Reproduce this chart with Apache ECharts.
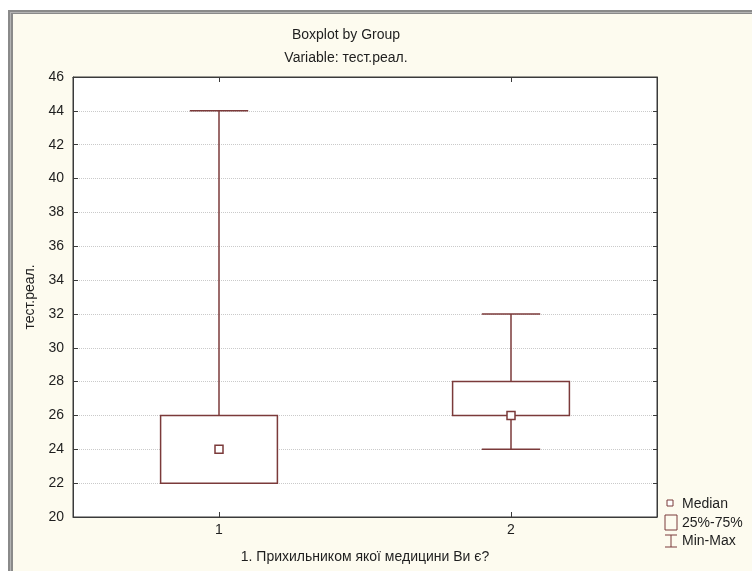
<!DOCTYPE html>
<html>
<head>
<meta charset="utf-8">
<script src="https://cdn.jsdelivr.net/npm/echarts@6/dist/echarts.min.js"></script>
<style>
  html, body { margin: 0; padding: 0; background: #ffffff; }
  #chart { width: 752px; height: 571px; }
</style>
</head>
<body>
<div id="chart"></div>
<script>
// group labels and the five numbers of each box
const categories = ["1", "2"];
const minVals = [22, 24];
const q1Vals = [22, 26];
const medianVals = [24, 26];
const q3Vals = [26, 28];
const maxVals = [44, 32];

const boxColor = "#7b3a3a";
const textColor = "#1e1e1e";
const font = "Liberation Sans, Arial, sans-serif";

const boxData = categories.map((c, i) => [i, minVals[i], q1Vals[i], medianVals[i], q3Vals[i], maxVals[i]]);

function renderBox(params, api) {
  const idx = api.value(0);
  const band = api.size([1, 0])[0];
  const half = band * 0.4 / 2;
  const cap = band * 0.2 / 2;
  const pMin = api.coord([idx, api.value(1)]);
  const pQ1 = api.coord([idx, api.value(2)]);
  const pMed = api.coord([idx, api.value(3)]);
  const pQ3 = api.coord([idx, api.value(4)]);
  const pMax = api.coord([idx, api.value(5)]);
  const x = pMed[0];
  const line = { stroke: boxColor, lineWidth: 1.5 };
  return {
    type: "group",
    children: [
      // whiskers
      { type: "line", shape: { x1: x, y1: pQ3[1], x2: x, y2: pMax[1] }, style: line },
      { type: "line", shape: { x1: x, y1: pQ1[1], x2: x, y2: pMin[1] }, style: line },
      { type: "line", shape: { x1: x - cap, y1: pMax[1], x2: x + cap, y2: pMax[1] }, style: line },
      { type: "line", shape: { x1: x - cap, y1: pMin[1], x2: x + cap, y2: pMin[1] }, style: line },
      // box
      {
        type: "rect",
        shape: { x: x - half, y: pQ3[1], width: half * 2, height: pQ1[1] - pQ3[1] },
        style: { fill: "#ffffff", stroke: boxColor, lineWidth: 1.5 },
      },
      // median
      {
        type: "rect",
        shape: { x: x - 4, y: pMed[1] - 4, width: 8, height: 8 },
        style: { fill: "#ffffff", stroke: boxColor, lineWidth: 1.5 },
      },
    ],
  };
}

let chartDom = document.getElementById("chart");
let myChart = echarts.init(chartDom);

let option = {
  backgroundColor: "#ffffff",
  animation: false,
  textStyle: { fontFamily: font },
  title: {
    text: "Boxplot by Group",
    subtext: "Variable: тест.реал.",
    left: 341,
    textAlign: "center",
    top: 23,
    itemGap: 9,
    textStyle: { fontSize: 14, fontWeight: "normal", color: textColor, fontFamily: font },
    subtextStyle: { fontSize: 14, color: textColor, fontFamily: font },
  },
  graphic: [
    // window frame and cream panel
    { type: "rect", z: -10, shape: { x: 8, y: 10, width: 760, height: 580 }, style: { fill: "#8a8a8a" } },
    { type: "rect", z: -10, shape: { x: 10, y: 12, width: 760, height: 580 }, style: { fill: "#b4b4b4" } },
    { type: "rect", z: -10, shape: { x: 11, y: 13, width: 760, height: 580 }, style: { fill: "#8a8a8a" } },
    { type: "rect", z: -10, shape: { x: 13, y: 14, width: 760, height: 580 }, style: { fill: "#fdfbef" } },
    // legend
    { type: "rect", shape: { x: 667, y: 500, width: 6, height: 6 }, style: { fill: "#ffffff", stroke: boxColor, lineWidth: 1 } },
    { type: "text", x: 682, y: 504, style: { text: "Median", fontSize: 14, fontFamily: font, fill: textColor, verticalAlign: "middle" } },
    { type: "rect", shape: { x: 665, y: 515, width: 12, height: 15 }, style: { fill: "none", stroke: boxColor, lineWidth: 1 } },
    { type: "text", x: 682, y: 523, style: { text: "25%-75%", fontSize: 14, fontFamily: font, fill: textColor, verticalAlign: "middle" } },
    { type: "line", shape: { x1: 671, y1: 535, x2: 671, y2: 547 }, style: { stroke: boxColor, lineWidth: 1 } },
    { type: "line", shape: { x1: 665, y1: 535, x2: 677, y2: 535 }, style: { stroke: boxColor, lineWidth: 1 } },
    { type: "line", shape: { x1: 665, y1: 547, x2: 677, y2: 547 }, style: { stroke: boxColor, lineWidth: 1 } },
    { type: "text", x: 682, y: 541, style: { text: "Min-Max", fontSize: 14, fontFamily: font, fill: textColor, verticalAlign: "middle" } },
  ],
  grid: {
    left: 73,
    right: 95,
    top: 77,
    bottom: 54,
    show: true,
    backgroundColor: "#ffffff",
    borderColor: "#3a3a3a",
    borderWidth: 1,
  },
  xAxis: [
    {
      type: "category",
      data: categories,
      position: "bottom",
      name: "1. Прихильником якої медицини Ви є?",
      nameLocation: "middle",
      nameGap: 33,
      nameTextStyle: { fontSize: 14, color: textColor, fontFamily: font },
      axisLine: { show: true, lineStyle: { color: "#3a3a3a" } },
      axisTick: { show: true, inside: true, alignWithLabel: true, length: 5, lineStyle: { color: "#3a3a3a" } },
      axisLabel: { fontSize: 14, color: textColor, margin: 6 },
      splitLine: { show: false },
    },
    {
      type: "category",
      data: categories,
      position: "top",
      axisLine: { show: true, lineStyle: { color: "#3a3a3a" } },
      axisTick: { show: true, inside: true, alignWithLabel: true, length: 5, lineStyle: { color: "#3a3a3a" } },
      axisLabel: { show: false },
      splitLine: { show: false },
    },
  ],
  yAxis: [
    {
      type: "value",
      min: 20,
      max: 46,
      interval: 2,
      position: "left",
      name: "тест.реал.",
      nameLocation: "middle",
      nameGap: 35,
      nameTextStyle: { fontSize: 14, color: textColor, fontFamily: font },
      axisLine: { show: true, lineStyle: { color: "#3a3a3a" } },
      axisTick: { show: true, inside: true, length: 5, lineStyle: { color: "#3a3a3a" } },
      axisLabel: { fontSize: 14, color: textColor, margin: 9 },
      splitLine: { show: true, lineStyle: { color: "#cacaca", type: [1, 1], width: 1 } },
    },
    {
      type: "value",
      min: 20,
      max: 46,
      interval: 2,
      position: "right",
      axisLine: { show: true, lineStyle: { color: "#3a3a3a" } },
      axisTick: { show: true, inside: true, length: 4, lineStyle: { color: "#3a3a3a" } },
      axisLabel: { show: false },
      splitLine: { show: false },
    },
  ],
  series: [
    {
      name: "box",
      type: "custom",
      renderItem: renderBox,
      encode: { x: 0, y: [1, 2, 3, 4, 5] },
      data: boxData,
    },
  ],
};

option && myChart.setOption(option);
</script>
</body>
</html>
